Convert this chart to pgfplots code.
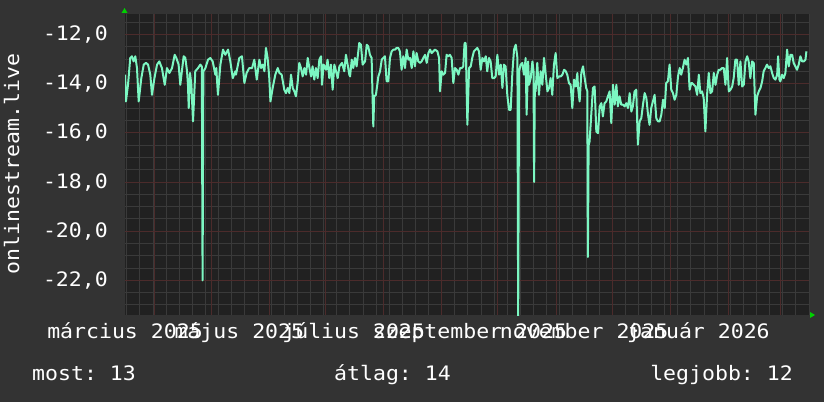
\documentclass[border=0pt]{standalone}
\usepackage{pgfplots}
\pgfplotsset{compat=1.18}
\usepackage{pgfplotstable}
\usepackage{fontspec}
\setmainfont{DejaVu Sans Mono}[FakeStretch=1.08]
\setmonofont{DejaVu Sans Mono}[FakeStretch=1.08]
\frenchspacing
\definecolor{bg}{HTML}{333333}
\definecolor{canvas}{HTML}{212121}
\definecolor{mgrid}{HTML}{4C2B2B}
\definecolor{sgrid}{HTML}{3A3A3A}
\definecolor{series}{HTML}{7CF7C2}
\definecolor{arrowg}{HTML}{00D000}
\newcommand{\rfont}{\fontsize{20}{20}\selectfont}

\pgfplotstableread{
day value
15.0 -13.63
15.5 -14.72
16.6 -14.04
17.8 -12.95
18.7 -12.88
19.6 -13.09
20.5 -12.88
21.4 -13.36
22.3 -14.72
23.7 -13.77
25.0 -13.22
26.2 -13.15
27.3 -13.22
28.5 -13.63
29.4 -14.45
30.7 -13.77
32.1 -13.22
33.3 -13.09
34.7 -13.36
36.2 -14.04
37.4 -13.36
38.7 -13.56
40.1 -13.36
41.5 -12.82
42.4 -12.95
43.6 -13.22
44.5 -14.04
46.3 -12.88
47.2 -12.95
48.1 -13.49
48.6 -14.04
49.0 -14.99
49.7 -13.56
50.4 -14.04
51.3 -15.53
52.5 -13.49
54.0 -13.36
55.2 -13.22
56.0 -13.30
56.4 -22.00
56.8 -13.50
57.9 -13.36
59.3 -13.02
60.5 -12.95
61.8 -13.09
63.2 -13.63
63.7 -13.36
64.6 -14.45
65.9 -13.22
67.3 -12.61
68.5 -12.82
70.0 -12.61
71.2 -13.09
72.5 -13.77
73.9 -13.49
74.2 -13.63
76.0 -12.95
77.4 -12.88
78.7 -13.97
79.9 -13.56
81.3 -13.36
82.8 -13.36
84.0 -13.02
85.3 -13.83
86.7 -13.02
87.6 -13.36
88.5 -13.22
89.4 -13.49
90.2 -12.54
91.1 -12.95
92.0 -13.77
92.6 -14.72
93.8 -14.17
95.2 -13.63
96.5 -13.36
97.4 -13.56
98.6 -13.63
100.0 -14.24
100.9 -14.38
101.8 -14.17
102.7 -14.38
103.6 -13.63
104.5 -14.17
105.4 -14.31
106.2 -14.51
107.1 -13.97
108.0 -13.15
108.9 -13.36
109.8 -13.70
110.7 -13.36
111.6 -13.63
112.5 -12.95
113.4 -13.36
114.3 -13.70
115.1 -13.29
116.0 -13.83
116.9 -13.36
117.8 -13.77
118.7 -13.02
119.6 -12.88
120.1 -14.04
121.0 -13.22
122.3 -13.43
123.1 -13.02
124.0 -13.77
124.9 -13.22
125.8 -14.24
126.7 -13.22
127.6 -13.49
128.5 -13.77
129.4 -13.29
130.8 -13.15
132.0 -13.49
132.9 -12.82
133.8 -13.22
134.7 -13.63
135.1 -13.70
136.0 -13.02
136.8 -13.36
137.7 -12.95
138.6 -13.29
140.0 -12.34
140.9 -12.41
141.8 -13.22
143.1 -13.09
144.0 -12.41
144.8 -12.48
145.7 -12.82
146.6 -12.95
147.5 -15.74
148.0 -14.51
148.9 -14.45
150.2 -13.70
151.1 -13.49
152.0 -13.02
152.8 -12.95
153.7 -12.88
154.6 -13.90
155.5 -13.90
156.4 -12.95
157.3 -12.68
158.2 -12.61
159.1 -12.61
160.0 -12.54
160.8 -12.54
161.7 -12.68
162.6 -13.43
163.5 -12.88
164.4 -13.36
165.3 -12.61
166.2 -13.02
167.1 -12.95
168.0 -13.36
168.9 -12.68
169.7 -13.29
170.6 -12.75
171.5 -13.09
172.4 -13.15
173.3 -13.09
174.2 -12.95
175.1 -12.82
176.0 -13.15
176.9 -12.75
177.8 -12.61
178.6 -12.75
179.5 -12.68
180.4 -12.61
181.7 -12.68
182.6 -12.95
183.1 -14.31
184.0 -13.49
184.9 -13.63
185.8 -13.56
186.6 -12.82
187.5 -12.88
188.4 -12.82
189.3 -12.95
190.2 -13.97
191.1 -13.36
192.0 -13.43
192.9 -13.63
193.8 -13.36
194.7 -13.36
195.5 -13.29
196.2 -12.34
196.8 -12.34
197.7 -15.67
198.6 -13.36
199.5 -13.29
200.3 -12.95
201.2 -12.68
202.1 -12.61
203.0 -12.54
203.9 -12.68
204.8 -13.43
205.7 -12.95
206.6 -13.09
207.5 -12.88
208.3 -13.49
209.2 -12.95
210.1 -13.09
211.0 -13.77
211.9 -13.77
212.8 -13.70
213.7 -12.82
214.6 -13.63
215.5 -13.22
216.4 -14.17
217.2 -13.22
218.1 -13.29
219.0 -14.45
219.9 -15.06
220.8 -15.06
221.7 -13.56
222.6 -12.61
223.5 -12.41
224.4 -12.95
224.8 -23.60
225.3 -13.50
226.1 -13.22
227.0 -13.15
227.9 -13.63
228.8 -12.95
229.3 -15.26
230.1 -13.09
230.6 -14.04
231.5 -13.77
232.4 -13.09
233.0 -13.50
233.3 -18.00
233.7 -14.00
234.1 -14.31
235.0 -13.15
235.9 -14.45
236.8 -13.49
237.7 -14.04
238.6 -12.95
239.5 -13.63
240.4 -14.31
241.3 -14.17
242.1 -13.77
243.0 -14.45
243.9 -13.22
244.8 -12.75
245.7 -13.77
246.6 -13.70
247.5 -13.70
248.4 -13.63
249.3 -13.43
250.2 -13.49
251.0 -13.63
251.9 -13.97
252.8 -14.04
253.7 -14.99
254.6 -13.83
255.5 -14.11
256.4 -13.56
256.7 -14.11
257.6 -14.72
258.5 -13.56
259.4 -13.29
260.3 -13.77
261.1 -14.17
261.7 -14.30
262.0 -21.05
262.4 -16.50
262.9 -16.35
263.8 -15.26
264.7 -14.17
265.6 -14.11
266.5 -15.94
267.4 -16.01
268.3 -14.92
269.2 -14.79
270.0 -15.33
270.9 -14.79
271.8 -14.72
272.7 -14.51
273.6 -14.31
274.5 -15.60
275.4 -14.04
276.3 -14.85
277.2 -14.04
278.0 -14.92
278.9 -14.51
279.8 -14.85
280.7 -14.85
281.6 -14.92
282.5 -14.79
283.4 -14.99
284.3 -14.38
285.2 -15.13
286.0 -14.92
286.9 -14.31
287.8 -14.24
288.7 -16.48
289.6 -15.53
290.5 -15.40
291.4 -14.85
292.3 -14.38
293.2 -14.58
294.1 -15.26
294.9 -15.67
295.8 -14.99
296.7 -14.72
297.6 -14.45
298.5 -15.40
299.4 -15.53
300.3 -15.53
301.2 -15.26
302.1 -14.65
303.0 -14.99
303.8 -13.97
304.7 -13.90
305.6 -13.22
306.5 -14.24
307.4 -14.38
308.3 -14.65
309.2 -14.45
310.1 -13.70
311.0 -13.36
311.8 -13.63
312.7 -13.36
313.6 -13.02
314.5 -13.22
315.4 -12.95
316.3 -14.24
317.2 -13.97
317.6 -13.97
319.4 -14.11
320.3 -14.45
321.2 -13.63
322.0 -14.38
322.9 -14.31
323.8 -14.58
324.7 -15.94
325.6 -14.45
326.5 -13.56
327.4 -14.38
328.3 -14.31
329.2 -13.56
330.1 -14.04
331.0 -13.63
331.8 -13.43
332.7 -13.43
333.6 -13.36
334.5 -13.36
335.4 -14.04
336.3 -12.95
337.2 -14.31
338.1 -14.24
339.0 -14.11
339.8 -13.77
340.7 -13.02
341.6 -13.02
342.5 -14.04
343.4 -13.09
344.3 -14.11
345.2 -14.04
346.1 -13.09
347.0 -12.88
347.8 -13.09
348.7 -13.77
349.6 -13.09
350.5 -13.15
351.4 -15.26
352.3 -14.51
353.2 -14.31
354.1 -14.17
355.0 -13.90
355.8 -13.49
356.7 -13.36
357.6 -13.22
358.5 -13.36
359.4 -13.29
360.3 -13.56
361.2 -13.77
362.1 -13.83
363.0 -13.63
363.5 -12.88
364.2 -13.83
364.7 -13.90
365.6 -13.63
366.5 -13.77
367.4 -13.56
368.3 -12.61
369.2 -13.29
370.1 -12.82
371.0 -12.82
371.8 -13.15
372.7 -13.29
373.6 -13.43
374.5 -13.22
375.4 -12.88
376.3 -13.09
377.2 -13.09
378.1 -13.02
378.6 -12.68
}\datatable

\begin{document}
\begin{tikzpicture}[x=1bp,y=1bp]
\fill[bg] (0,0) rectangle (824,402);
\begin{axis}[
  at={(125bp,87bp)}, anchor=south west,
  scale only axis, width=684bp, height=301bp,
  xmin=15, xmax=380, ymin=-23.41, ymax=-11.16,
  axis background/.style={fill=canvas},
  axis line style={draw=none},
  xtick={15,76,137,199,260,321},
  xticklabels={március 2025,május 2025,július 2025,szeptember 2025,november 2025,január 2026},
  minor xtick={16,23,...,380},
  ytick={-22,-20,-18,-16,-14,-12},
  yticklabels={{-22,0},{-20,0},{-18,0},{-16,0},{-14,0},{-12,0}},
  minor ytick={-23,-22.5,...,-11.5},
  xmajorgrids=false, xminorgrids=true,
  ymajorgrids=true, yminorgrids=true,
  major grid style={mgrid, line width=1bp},
  minor grid style={sgrid, line width=1bp},
  major tick length=0pt, minor tick length=0pt,
  extra x ticks={31,61,92,122,153,184,214,245,275,306,337,365},
  extra x tick labels={},
  extra x tick style={xmajorgrids=true, major grid style={mgrid, line width=1bp}},
  tick label style={font=\rfont, text=white, inner sep=0pt},
  xticklabel style={anchor=base, yshift=-23bp},
  yticklabel style={anchor=east, xshift=-17bp},
  clip=true,
]
\addplot[series, line width=2bp, line join=round, mark=none] table[x=day, y=value] {\datatable};
\end{axis}
\fill[arrowg] (121.5,389) -- (127.5,389) -- (124.5,394) -- cycle;
\fill[arrowg] (810,84) -- (810,90) -- (815,87) -- cycle;
\node[rotate=90, anchor=base, inner sep=0pt, text=white, font=\rfont] at (19,238) {onlinestream.live};
\node[anchor=base west, inner sep=0pt, text=white, font=\rfont] at (32,22) {most: 13};
\node[anchor=base west, inner sep=0pt, text=white, font=\rfont] at (334,22) {átlag: 14};
\node[anchor=base east, inner sep=0pt, text=white, font=\rfont] at (793,22) {legjobb: 12};
\end{tikzpicture}
\end{document}
